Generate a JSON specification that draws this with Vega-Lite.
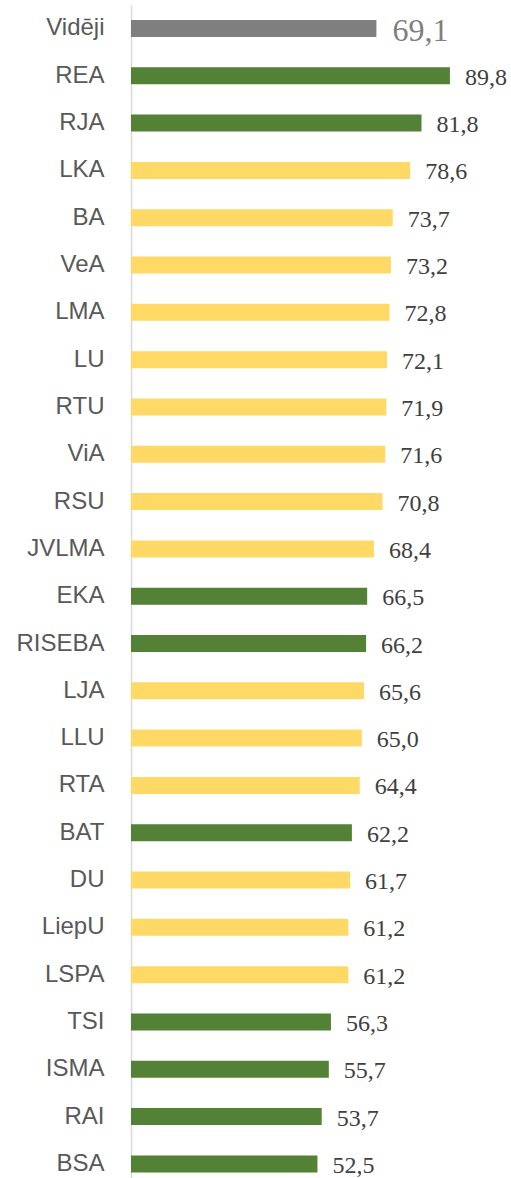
{
  "$schema": "https://vega.github.io/schema/vega-lite/v6.json",
  "width": 380,
  "height": 1173,
  "autosize": "none",
  "padding": {"left": 131, "top": 5, "right": 0, "bottom": 0},
  "config": {
    "view": {"stroke": null},
    "locale": {"number": {"decimal": ",", "thousands": " ", "grouping": [3], "currency": ["", " €"]}}
  },
  "data": {
    "values": [
      {"augstskola": "Vidēji", "vertiba": 69.1, "grupa": "vid"},
      {"augstskola": "REA", "vertiba": 89.8, "grupa": "zala"},
      {"augstskola": "RJA", "vertiba": 81.8, "grupa": "zala"},
      {"augstskola": "LKA", "vertiba": 78.6, "grupa": "dzeltena"},
      {"augstskola": "BA", "vertiba": 73.7, "grupa": "dzeltena"},
      {"augstskola": "VeA", "vertiba": 73.2, "grupa": "dzeltena"},
      {"augstskola": "LMA", "vertiba": 72.8, "grupa": "dzeltena"},
      {"augstskola": "LU", "vertiba": 72.1, "grupa": "dzeltena"},
      {"augstskola": "RTU", "vertiba": 71.9, "grupa": "dzeltena"},
      {"augstskola": "ViA", "vertiba": 71.6, "grupa": "dzeltena"},
      {"augstskola": "RSU", "vertiba": 70.8, "grupa": "dzeltena"},
      {"augstskola": "JVLMA", "vertiba": 68.4, "grupa": "dzeltena"},
      {"augstskola": "EKA", "vertiba": 66.5, "grupa": "zala"},
      {"augstskola": "RISEBA", "vertiba": 66.2, "grupa": "zala"},
      {"augstskola": "LJA", "vertiba": 65.6, "grupa": "dzeltena"},
      {"augstskola": "LLU", "vertiba": 65.0, "grupa": "dzeltena"},
      {"augstskola": "RTA", "vertiba": 64.4, "grupa": "dzeltena"},
      {"augstskola": "BAT", "vertiba": 62.2, "grupa": "zala"},
      {"augstskola": "DU", "vertiba": 61.7, "grupa": "dzeltena"},
      {"augstskola": "LiepU", "vertiba": 61.2, "grupa": "dzeltena"},
      {"augstskola": "LSPA", "vertiba": 61.2, "grupa": "dzeltena"},
      {"augstskola": "TSI", "vertiba": 56.3, "grupa": "zala"},
      {"augstskola": "ISMA", "vertiba": 55.7, "grupa": "zala"},
      {"augstskola": "RAI", "vertiba": 53.7, "grupa": "zala"},
      {"augstskola": "BSA", "vertiba": 52.5, "grupa": "zala"}
    ]
  },
  "encoding": {
    "y": {
      "field": "augstskola",
      "type": "nominal",
      "sort": null,
      "scale": {"paddingInner": 0.6407, "paddingOuter": 0.2177, "align": 0.728},
      "axis": {
        "title": null,
        "ticks": false,
        "domainColor": "#d9d9d9",
        "domainWidth": 1.5,
        "labelFont": "Liberation Sans",
        "labelFontSize": 24,
        "labelColor": "#595959",
        "labelPadding": 27
      }
    },
    "x": {
      "field": "vertiba",
      "type": "quantitative",
      "scale": {"domain": [0, 107], "nice": false},
      "axis": null
    }
  },
  "layer": [
    {
      "mark": {"type": "bar"},
      "encoding": {
        "color": {
          "field": "grupa",
          "type": "nominal",
          "scale": {"domain": ["vid", "zala", "dzeltena"], "range": ["#7f7f7f", "#538135", "#ffd966"]},
          "legend": null
        }
      }
    },
    {
      "transform": [{"filter": "datum.grupa !== 'vid'"}],
      "mark": {"type": "text", "align": "left", "baseline": "middle", "dx": 15, "dy": 2, "font": "Liberation Serif", "fontSize": 24, "color": "#404040"},
      "encoding": {"text": {"field": "vertiba", "type": "quantitative", "format": ".1f"}}
    },
    {
      "transform": [{"filter": "datum.grupa === 'vid'"}],
      "mark": {"type": "text", "align": "left", "baseline": "middle", "dx": 16, "dy": 3, "font": "Liberation Serif", "fontSize": 32, "color": "#7f7f7f"},
      "encoding": {"text": {"field": "vertiba", "type": "quantitative", "format": ".1f"}}
    }
  ]
}
